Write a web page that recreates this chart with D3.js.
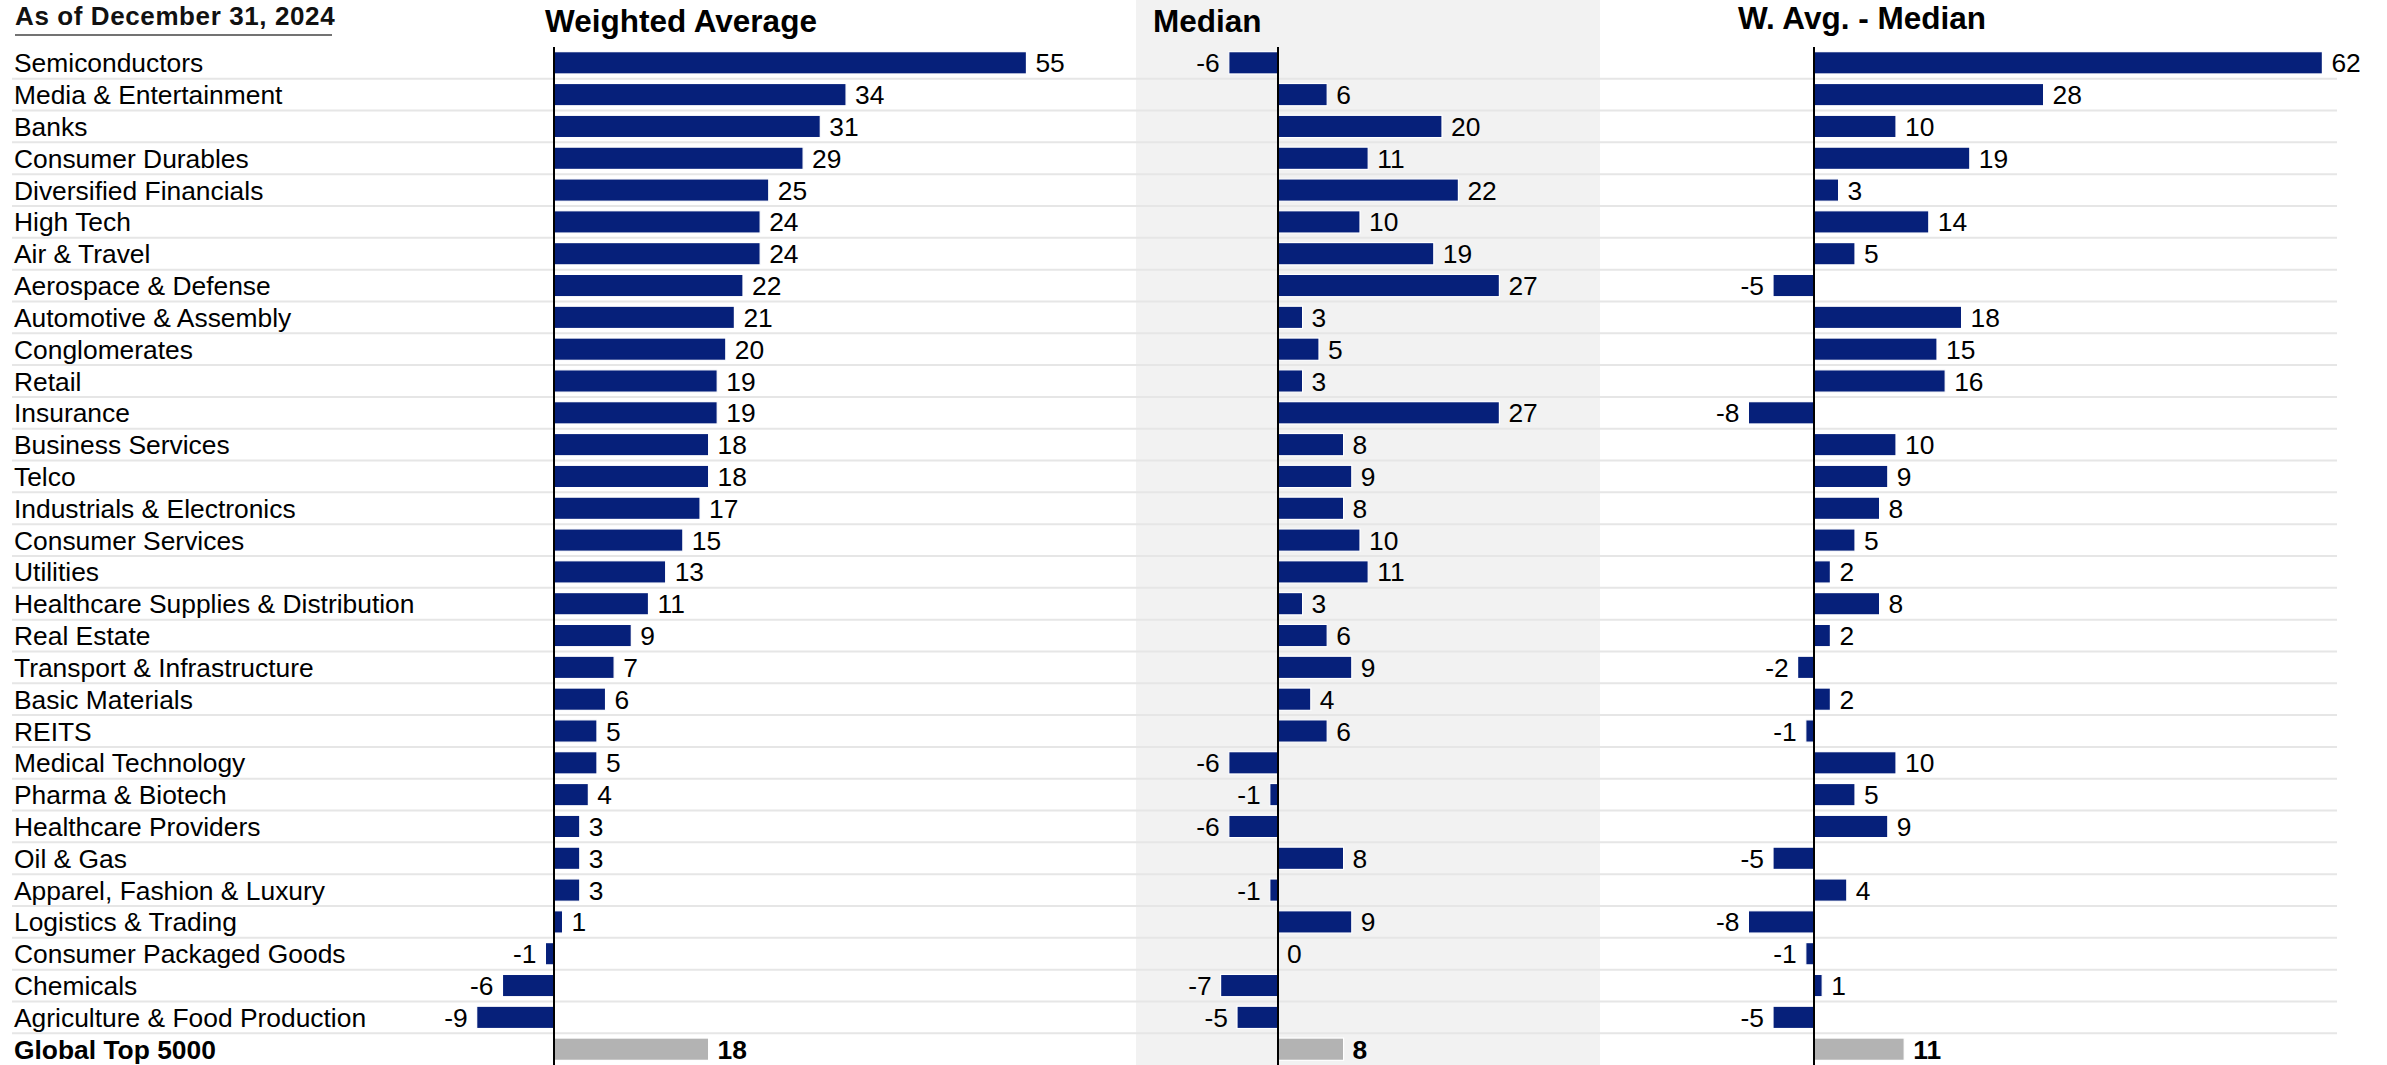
<!DOCTYPE html>
<html>
<head>
<meta charset="utf-8">
<script src="https://cdn.jsdelivr.net/npm/d3@7"></script>
<style>
  html, body { margin: 0; padding: 0; background: #fff; }
  svg { display: block; font-family: Arial, "Liberation Sans", Helvetica, sans-serif; }
</style>
</head>
<body>
<svg id="chart" width="2387" height="1065"></svg>
<script>
// Industry rows, top to bottom
const categories = [
  "Semiconductors", "Media & Entertainment", "Banks", "Consumer Durables",
  "Diversified Financials", "High Tech", "Air & Travel", "Aerospace & Defense",
  "Automotive & Assembly", "Conglomerates", "Retail", "Insurance",
  "Business Services", "Telco", "Industrials & Electronics", "Consumer Services",
  "Utilities", "Healthcare Supplies & Distribution", "Real Estate",
  "Transport & Infrastructure", "Basic Materials", "REITS", "Medical Technology",
  "Pharma & Biotech", "Healthcare Providers", "Oil & Gas",
  "Apparel, Fashion & Luxury", "Logistics & Trading", "Consumer Packaged Goods",
  "Chemicals", "Agriculture & Food Production"
];
const weightedAvg = [55, 34, 31, 29, 25, 24, 24, 22, 21, 20, 19, 19, 18, 18, 17, 15,
                     13, 11, 9, 7, 6, 5, 5, 4, 3, 3, 3, 1, -1, -6, -9];
const median = [-6, 6, 20, 11, 22, 10, 19, 27, 3, 5, 3, 27, 8, 9, 8, 10,
                11, 3, 6, 9, 4, 6, -6, -1, -6, 8, -1, 9, 0, -7, -5];
const avgMinusMedian = [62, 28, 10, 19, 3, 14, 5, -5, 18, 15, 16, -8, 10, 9, 8, 5,
                        2, 8, 2, -2, 2, -1, 10, 5, 9, -5, 4, -8, -1, 1, -5];

// Aggregate row shown at the bottom
const totalLabel = "Global Top 5000";
const totalValues = [18, 8, 11];

const panelTitles = ["Weighted Average", "Median", "W. Avg. - Median"];
const dateLabel = "As of December 31, 2024";

const W = 2387, H = 1065;
const BAR = "#06207a", TOTAL_BAR = "#b3b3b3", GRID = "#e6e6e6", PANEL_BG = "#f2f2f2";

const svg = d3.select("#chart");

const rowLabels = categories.concat([totalLabel]);
const y = d3.scaleBand()
  .domain(d3.range(rowLabels.length))
  .range([46.9, 1065.1])
  .paddingInner(0.3)
  .paddingOuter(0.15);

// Panel layout: zero line position and pixels per unit
const panels = [
  { title: panelTitles[0], values: weightedAvg, total: totalValues[0], zero: 554, unit: 8.59, titleX: 545, titleY: 32 },
  { title: panelTitles[1], values: median,      total: totalValues[1], zero: 1278, unit: 8.2, titleX: 1153, titleY: 32 },
  { title: panelTitles[2], values: avgMinusMedian, total: totalValues[2], zero: 1814, unit: 8.2, titleX: 1738, titleY: 29 }
];
panels.forEach(p => {
  const ext = d3.extent(p.values.concat([p.total, 0]));
  p.x = d3.scaleLinear().domain(ext).range([p.zero + ext[0] * p.unit, p.zero + ext[1] * p.unit]);
});

// Plain hyphen for negatives, as in the printed table
const fmt = v => String(v);

// Shaded background behind the median panel
svg.append("rect")
  .attr("x", 1136).attr("y", 0)
  .attr("width", 1600 - 1136).attr("height", H)
  .attr("fill", PANEL_BG);

// Row separators
const gap = y.step() - y.bandwidth();
svg.append("g").selectAll("line")
  .data(d3.range(rowLabels.length - 1))
  .join("line")
  .attr("x1", 12).attr("x2", 2337)
  .attr("y1", i => y(i) + y.bandwidth() + gap / 2)
  .attr("y2", i => y(i) + y.bandwidth() + gap / 2)
  .attr("stroke", GRID).attr("stroke-width", 2);

// Date header with underline
svg.append("text")
  .attr("x", 15).attr("y", 25)
  .attr("font-size", 26).attr("font-weight", "bold")
  .attr("letter-spacing", 0.6)
  .attr("fill", "#111")
  .text(dateLabel);
svg.append("line")
  .attr("x1", 15).attr("x2", 332).attr("y1", 35).attr("y2", 35)
  .attr("stroke", "#444").attr("stroke-width", 1.5);

// Row labels
svg.append("g").selectAll("text")
  .data(rowLabels)
  .join("text")
  .attr("x", 14)
  .attr("y", (d, i) => y(i) + y.bandwidth() / 2)
  .attr("dy", "0.36em")
  .attr("font-size", 26.4)
  .attr("font-weight", (d, i) => i === categories.length ? "bold" : "normal")
  .attr("fill", "#000")
  .text(d => d);

// Panels
panels.forEach(p => {
  const g = svg.append("g");
  const rows = p.values.map((v, i) => ({ v, i, total: false }))
    .concat([{ v: p.total, i: categories.length, total: true }]);

  g.append("text")
    .attr("x", p.titleX).attr("y", p.titleY)
    .attr("font-size", 31.5).attr("font-weight", "bold")
    .attr("fill", "#000")
    .text(p.title);

  g.selectAll("rect")
    .data(rows)
    .join("rect")
    .attr("x", d => Math.min(p.x(0), p.x(d.v)))
    .attr("y", d => y(d.i))
    .attr("width", d => Math.abs(p.x(d.v) - p.x(0)))
    .attr("height", y.bandwidth())
    .attr("fill", d => d.total ? TOTAL_BAR : BAR)
    .attr("stroke", "#fff").attr("stroke-width", 1.2);

  g.selectAll("text.val")
    .data(rows)
    .join("text")
    .attr("class", "val")
    .attr("x", d => d.v < 0 ? p.x(d.v) - 9 : p.x(d.v) + 9)
    .attr("y", d => y(d.i) + y.bandwidth() / 2)
    .attr("dy", "0.36em")
    .attr("text-anchor", d => d.v < 0 ? "end" : "start")
    .attr("font-size", 26.4)
    .attr("font-weight", d => d.total ? "bold" : "normal")
    .attr("fill", "#000")
    .text(d => fmt(d.v));

  // Zero line
  g.append("line")
    .attr("x1", p.x(0)).attr("x2", p.x(0))
    .attr("y1", 47).attr("y2", H)
    .attr("stroke", "#000").attr("stroke-width", 2);
});
</script>
</body>
</html>
